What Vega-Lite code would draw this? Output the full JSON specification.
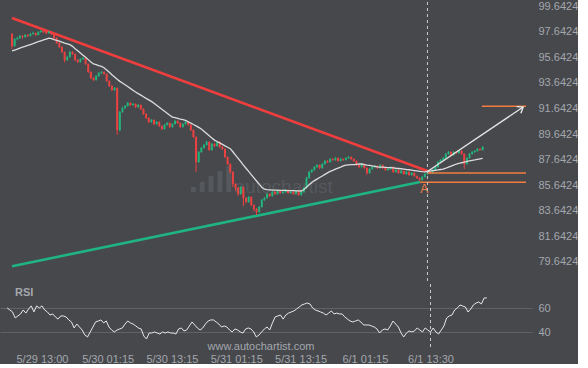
{
"$schema":"https://vega.github.io/schema/vega-lite/v6.json",
"background":"#46484c",
"padding":0,
"spacing":0,
"bounds":"flush",
"config":{"view":{"stroke":null},"axis":{"labelFont":"Liberation Sans","labelFontSize":11,"labelColor":"#a4a7ac","domain":false,"ticks":false,"grid":false,"title":null,"labelOverlap":false}},
"datasets":{
"candles":[
{"t":"2023-05-29 06:30","o":97.48,"h":97.55,"l":96.30,"c":96.54,"m":96.15,"r":60.3},
{"t":"2023-05-29 07:00","o":96.54,"h":97.15,"l":96.48,"c":97.08,"m":96.22,"r":58.6},
{"t":"2023-05-29 07:30","o":97.08,"h":97.25,"l":96.98,"c":97.16,"m":96.29,"r":57.0},
{"t":"2023-05-29 08:00","o":97.16,"h":97.40,"l":97.08,"c":97.32,"m":96.37,"r":52.0},
{"t":"2023-05-29 08:30","o":97.32,"h":97.38,"l":97.12,"c":97.24,"m":96.44,"r":53.6},
{"t":"2023-05-29 09:00","o":97.24,"h":97.47,"l":97.18,"c":97.40,"m":96.51,"r":55.3},
{"t":"2023-05-29 09:30","o":97.40,"h":97.46,"l":97.25,"c":97.32,"m":96.58,"r":58.6},
{"t":"2023-05-29 10:00","o":97.32,"h":97.56,"l":97.28,"c":97.48,"m":96.65,"r":56.0},
{"t":"2023-05-29 10:30","o":97.48,"h":97.66,"l":97.42,"c":97.55,"m":96.72,"r":59.4},
{"t":"2023-05-29 11:00","o":97.55,"h":97.60,"l":97.33,"c":97.40,"m":96.80,"r":62.0},
{"t":"2023-05-29 11:30","o":97.40,"h":97.70,"l":97.36,"c":97.63,"m":96.87,"r":57.0},
{"t":"2023-05-29 12:00","o":97.63,"h":97.80,"l":97.57,"c":97.71,"m":96.94,"r":62.0},
{"t":"2023-05-29 12:30","o":97.71,"h":97.76,"l":97.55,"c":97.63,"m":97.01,"r":60.3},
{"t":"2023-05-29 13:00","o":97.63,"h":97.69,"l":97.46,"c":97.55,"m":97.08,"r":62.0},
{"t":"2023-05-29 13:30","o":97.55,"h":97.72,"l":97.50,"c":97.63,"m":97.15,"r":58.6},
{"t":"2023-05-29 14:00","o":97.63,"h":97.68,"l":97.40,"c":97.48,"m":97.11,"r":57.0},
{"t":"2023-05-29 14:30","o":97.48,"h":97.52,"l":97.08,"c":97.16,"m":97.04,"r":54.4},
{"t":"2023-05-29 15:00","o":97.16,"h":97.22,"l":96.70,"c":96.77,"m":96.98,"r":55.3},
{"t":"2023-05-29 15:30","o":96.77,"h":96.85,"l":96.38,"c":96.46,"m":96.91,"r":52.8},
{"t":"2023-05-29 16:00","o":96.46,"h":96.52,"l":95.98,"c":96.07,"m":96.84,"r":51.0},
{"t":"2023-05-29 16:30","o":96.07,"h":96.12,"l":95.25,"c":95.44,"m":96.77,"r":53.6},
{"t":"2023-05-29 17:00","o":95.44,"h":95.75,"l":95.36,"c":95.68,"m":96.71,"r":53.6},
{"t":"2023-05-29 17:30","o":95.68,"h":96.15,"l":95.62,"c":96.07,"m":96.64,"r":52.8},
{"t":"2023-05-29 18:00","o":96.07,"h":96.13,"l":95.84,"c":95.91,"m":96.51,"r":50.3},
{"t":"2023-05-29 18:30","o":95.91,"h":95.97,"l":95.36,"c":95.44,"m":96.33,"r":48.6},
{"t":"2023-05-29 19:00","o":95.44,"h":95.52,"l":95.20,"c":95.29,"m":96.16,"r":43.6},
{"t":"2023-05-29 19:30","o":95.29,"h":95.60,"l":95.22,"c":95.52,"m":95.99,"r":46.9},
{"t":"2023-05-29 20:00","o":95.52,"h":95.68,"l":95.45,"c":95.60,"m":95.82,"r":44.4},
{"t":"2023-05-29 20:30","o":95.60,"h":95.66,"l":95.05,"c":95.13,"m":95.65,"r":41.9},
{"t":"2023-05-29 21:00","o":95.13,"h":95.18,"l":94.42,"c":94.50,"m":95.47,"r":37.8},
{"t":"2023-05-29 21:30","o":94.50,"h":94.58,"l":93.95,"c":94.03,"m":95.29,"r":36.1},
{"t":"2023-05-29 22:00","o":94.03,"h":94.10,"l":93.78,"c":93.88,"m":95.13,"r":40.3},
{"t":"2023-05-29 22:30","o":93.88,"h":94.26,"l":93.82,"c":94.19,"m":95.07,"r":44.4},
{"t":"2023-05-29 23:00","o":94.19,"h":94.50,"l":94.12,"c":94.42,"m":95.00,"r":48.6},
{"t":"2023-05-29 23:30","o":94.42,"h":94.58,"l":94.35,"c":94.50,"m":94.94,"r":49.4},
{"t":"2023-05-30 00:00","o":94.50,"h":94.56,"l":94.28,"c":94.35,"m":94.84,"r":50.3},
{"t":"2023-05-30 00:30","o":94.35,"h":94.40,"l":93.72,"c":93.80,"m":94.66,"r":47.8},
{"t":"2023-05-30 01:00","o":93.80,"h":93.86,"l":93.33,"c":93.41,"m":94.48,"r":49.4},
{"t":"2023-05-30 01:30","o":93.41,"h":93.47,"l":93.00,"c":93.09,"m":94.29,"r":44.4},
{"t":"2023-05-30 02:00","o":93.09,"h":93.33,"l":93.02,"c":93.25,"m":94.11,"r":41.9},
{"t":"2023-05-30 02:30","o":93.25,"h":93.30,"l":89.57,"c":89.96,"m":93.93,"r":40.3},
{"t":"2023-05-30 03:00","o":89.96,"h":91.45,"l":89.85,"c":91.37,"m":93.77,"r":41.9},
{"t":"2023-05-30 03:30","o":91.37,"h":91.78,"l":91.30,"c":91.69,"m":93.64,"r":42.8},
{"t":"2023-05-30 04:00","o":91.69,"h":91.93,"l":91.60,"c":91.84,"m":93.50,"r":43.6},
{"t":"2023-05-30 04:30","o":91.84,"h":92.16,"l":91.78,"c":92.08,"m":93.36,"r":46.9},
{"t":"2023-05-30 05:00","o":92.08,"h":92.14,"l":91.85,"c":91.92,"m":93.22,"r":49.4},
{"t":"2023-05-30 05:30","o":91.92,"h":92.08,"l":91.86,"c":92.00,"m":93.08,"r":47.8},
{"t":"2023-05-30 06:00","o":92.00,"h":92.05,"l":91.68,"c":91.76,"m":92.94,"r":46.9},
{"t":"2023-05-30 06:30","o":91.76,"h":91.99,"l":91.70,"c":91.92,"m":92.81,"r":45.3},
{"t":"2023-05-30 07:00","o":91.92,"h":91.97,"l":91.52,"c":91.61,"m":92.69,"r":43.6},
{"t":"2023-05-30 07:30","o":91.61,"h":91.66,"l":91.14,"c":91.22,"m":92.57,"r":42.8},
{"t":"2023-05-30 08:00","o":91.22,"h":91.28,"l":90.82,"c":90.90,"m":92.44,"r":36.9},
{"t":"2023-05-30 08:30","o":90.90,"h":90.96,"l":90.50,"c":90.59,"m":92.32,"r":34.4},
{"t":"2023-05-30 09:00","o":90.59,"h":90.83,"l":90.52,"c":90.75,"m":92.20,"r":39.4},
{"t":"2023-05-30 09:30","o":90.75,"h":90.80,"l":90.35,"c":90.43,"m":92.05,"r":39.4},
{"t":"2023-05-30 10:00","o":90.43,"h":90.67,"l":90.37,"c":90.59,"m":91.90,"r":40.3},
{"t":"2023-05-30 10:30","o":90.59,"h":90.64,"l":90.20,"c":90.28,"m":91.74,"r":39.4},
{"t":"2023-05-30 11:00","o":90.28,"h":90.33,"l":89.96,"c":90.04,"m":91.58,"r":38.6},
{"t":"2023-05-30 11:30","o":90.04,"h":90.44,"l":89.98,"c":90.36,"m":91.43,"r":40.3},
{"t":"2023-05-30 12:00","o":90.36,"h":90.59,"l":90.30,"c":90.51,"m":91.27,"r":39.4},
{"t":"2023-05-30 12:30","o":90.51,"h":90.57,"l":90.12,"c":90.20,"m":91.11,"r":40.3},
{"t":"2023-05-30 13:00","o":90.20,"h":90.50,"l":90.14,"c":90.43,"m":90.97,"r":39.4},
{"t":"2023-05-30 13:30","o":90.43,"h":90.75,"l":90.38,"c":90.67,"m":90.93,"r":39.4},
{"t":"2023-05-30 14:00","o":90.67,"h":90.72,"l":90.44,"c":90.51,"m":90.88,"r":38.6},
{"t":"2023-05-30 14:30","o":90.51,"h":90.56,"l":90.13,"c":90.20,"m":90.82,"r":42.8},
{"t":"2023-05-30 15:00","o":90.20,"h":90.50,"l":90.15,"c":90.43,"m":90.78,"r":43.6},
{"t":"2023-05-30 15:30","o":90.43,"h":90.66,"l":90.37,"c":90.59,"m":90.72,"r":41.1},
{"t":"2023-05-30 16:00","o":90.59,"h":90.64,"l":90.30,"c":90.36,"m":90.61,"r":41.9},
{"t":"2023-05-30 16:30","o":90.36,"h":90.41,"l":89.88,"c":89.96,"m":90.50,"r":45.3},
{"t":"2023-05-30 17:00","o":89.96,"h":90.02,"l":89.34,"c":89.42,"m":90.39,"r":48.6},
{"t":"2023-05-30 17:30","o":89.42,"h":89.48,"l":86.68,"c":87.46,"m":90.29,"r":46.1},
{"t":"2023-05-30 18:00","o":87.46,"h":88.32,"l":87.38,"c":88.24,"m":90.17,"r":43.6},
{"t":"2023-05-30 18:30","o":88.24,"h":88.64,"l":88.17,"c":88.56,"m":90.04,"r":41.9},
{"t":"2023-05-30 19:00","o":88.56,"h":88.87,"l":88.50,"c":88.79,"m":89.87,"r":43.6},
{"t":"2023-05-30 19:30","o":88.79,"h":89.12,"l":88.73,"c":89.03,"m":89.69,"r":46.9},
{"t":"2023-05-30 20:00","o":89.03,"h":89.08,"l":88.32,"c":88.40,"m":89.51,"r":49.4},
{"t":"2023-05-30 20:30","o":88.40,"h":88.95,"l":88.34,"c":88.87,"m":89.34,"r":50.3},
{"t":"2023-05-30 21:00","o":88.87,"h":88.93,"l":88.63,"c":88.71,"m":89.17,"r":50.3},
{"t":"2023-05-30 21:30","o":88.71,"h":89.10,"l":88.65,"c":89.03,"m":89.06,"r":48.6},
{"t":"2023-05-30 22:00","o":89.03,"h":89.08,"l":88.55,"c":88.63,"m":88.95,"r":46.9},
{"t":"2023-05-30 22:30","o":88.63,"h":88.70,"l":88.40,"c":88.48,"m":88.84,"r":44.4},
{"t":"2023-05-30 23:00","o":88.48,"h":88.53,"l":87.77,"c":87.85,"m":88.72,"r":45.3},
{"t":"2023-05-30 23:30","o":87.85,"h":87.90,"l":87.22,"c":87.30,"m":88.61,"r":44.4},
{"t":"2023-05-31 00:00","o":87.30,"h":87.36,"l":86.55,"c":86.68,"m":88.50,"r":41.9},
{"t":"2023-05-31 00:30","o":86.68,"h":86.74,"l":85.50,"c":85.74,"m":88.26,"r":40.3},
{"t":"2023-05-31 01:00","o":85.74,"h":85.80,"l":85.20,"c":85.43,"m":88.00,"r":42.8},
{"t":"2023-05-31 01:30","o":85.43,"h":85.50,"l":84.80,"c":84.96,"m":87.74,"r":41.9},
{"t":"2023-05-31 02:00","o":84.96,"h":85.58,"l":84.90,"c":85.50,"m":87.48,"r":40.3},
{"t":"2023-05-31 02:30","o":85.50,"h":85.55,"l":84.00,"c":84.64,"m":87.22,"r":39.4},
{"t":"2023-05-31 03:00","o":84.64,"h":84.70,"l":84.22,"c":84.33,"m":86.97,"r":42.8},
{"t":"2023-05-31 03:30","o":84.33,"h":84.80,"l":84.27,"c":84.72,"m":86.72,"r":43.6},
{"t":"2023-05-31 04:00","o":84.72,"h":84.78,"l":84.00,"c":84.10,"m":86.47,"r":42.8},
{"t":"2023-05-31 04:30","o":84.10,"h":84.15,"l":83.60,"c":83.78,"m":86.22,"r":40.3},
{"t":"2023-05-31 05:00","o":83.78,"h":83.85,"l":83.31,"c":83.55,"m":85.97,"r":36.1},
{"t":"2023-05-31 05:30","o":83.55,"h":84.02,"l":83.48,"c":83.94,"m":85.72,"r":37.8},
{"t":"2023-05-31 06:00","o":83.94,"h":84.56,"l":83.88,"c":84.49,"m":85.48,"r":40.3},
{"t":"2023-05-31 06:30","o":84.49,"h":84.72,"l":84.42,"c":84.64,"m":85.33,"r":42.8},
{"t":"2023-05-31 07:00","o":84.64,"h":85.04,"l":84.58,"c":84.96,"m":85.30,"r":44.4},
{"t":"2023-05-31 07:30","o":84.96,"h":85.02,"l":84.72,"c":84.80,"m":85.28,"r":41.9},
{"t":"2023-05-31 08:00","o":84.80,"h":85.19,"l":84.74,"c":85.11,"m":85.26,"r":47.8},
{"t":"2023-05-31 08:30","o":85.11,"h":85.17,"l":84.88,"c":84.96,"m":85.25,"r":52.8},
{"t":"2023-05-31 09:00","o":84.96,"h":85.27,"l":84.90,"c":85.19,"m":85.25,"r":53.6},
{"t":"2023-05-31 09:30","o":85.19,"h":85.25,"l":84.95,"c":85.03,"m":85.24,"r":54.4},
{"t":"2023-05-31 10:00","o":85.03,"h":85.19,"l":84.96,"c":85.11,"m":85.24,"r":51.0},
{"t":"2023-05-31 10:30","o":85.11,"h":85.35,"l":85.05,"c":85.27,"m":85.23,"r":54.4},
{"t":"2023-05-31 11:00","o":85.27,"h":85.32,"l":84.96,"c":85.03,"m":85.22,"r":56.0},
{"t":"2023-05-31 11:30","o":85.03,"h":85.18,"l":84.97,"c":85.11,"m":85.22,"r":56.9},
{"t":"2023-05-31 12:00","o":85.11,"h":85.16,"l":84.88,"c":84.96,"m":85.21,"r":57.8},
{"t":"2023-05-31 12:30","o":84.96,"h":85.26,"l":84.90,"c":85.19,"m":85.20,"r":59.4},
{"t":"2023-05-31 13:00","o":85.19,"h":85.24,"l":84.80,"c":84.88,"m":85.20,"r":61.1},
{"t":"2023-05-31 13:30","o":84.88,"h":85.19,"l":84.82,"c":85.11,"m":85.19,"r":62.8},
{"t":"2023-05-31 14:00","o":85.11,"h":85.51,"l":85.05,"c":85.43,"m":85.30,"r":63.6},
{"t":"2023-05-31 14:30","o":85.43,"h":86.30,"l":85.37,"c":86.21,"m":85.48,"r":64.4},
{"t":"2023-05-31 15:00","o":86.21,"h":86.76,"l":86.14,"c":86.68,"m":85.68,"r":63.6},
{"t":"2023-05-31 15:30","o":86.68,"h":86.92,"l":86.60,"c":86.83,"m":85.86,"r":60.3},
{"t":"2023-05-31 16:00","o":86.83,"h":87.15,"l":86.77,"c":87.07,"m":86.00,"r":58.6},
{"t":"2023-05-31 16:30","o":87.07,"h":87.30,"l":87.00,"c":87.22,"m":86.12,"r":57.8},
{"t":"2023-05-31 17:00","o":87.22,"h":87.27,"l":86.92,"c":86.99,"m":86.24,"r":56.9},
{"t":"2023-05-31 17:30","o":86.99,"h":87.38,"l":86.93,"c":87.30,"m":86.36,"r":56.0},
{"t":"2023-05-31 18:00","o":87.30,"h":87.62,"l":87.24,"c":87.54,"m":86.49,"r":54.4},
{"t":"2023-05-31 18:30","o":87.54,"h":87.60,"l":87.38,"c":87.46,"m":86.61,"r":56.0},
{"t":"2023-05-31 19:00","o":87.46,"h":87.77,"l":87.40,"c":87.69,"m":86.72,"r":57.8},
{"t":"2023-05-31 19:30","o":87.69,"h":87.75,"l":87.55,"c":87.62,"m":86.80,"r":55.3},
{"t":"2023-05-31 20:00","o":87.62,"h":87.85,"l":87.56,"c":87.77,"m":86.90,"r":56.0},
{"t":"2023-05-31 20:30","o":87.77,"h":87.82,"l":87.47,"c":87.54,"m":86.98,"r":55.3},
{"t":"2023-05-31 21:00","o":87.54,"h":87.76,"l":87.48,"c":87.69,"m":87.06,"r":55.3},
{"t":"2023-05-31 21:30","o":87.69,"h":87.74,"l":87.55,"c":87.62,"m":87.15,"r":52.8},
{"t":"2023-05-31 22:00","o":87.62,"h":87.85,"l":87.56,"c":87.77,"m":87.22,"r":51.0},
{"t":"2023-05-31 22:30","o":87.77,"h":87.93,"l":87.70,"c":87.85,"m":87.24,"r":49.4},
{"t":"2023-05-31 23:00","o":87.85,"h":87.90,"l":87.62,"c":87.69,"m":87.26,"r":48.6},
{"t":"2023-05-31 23:30","o":87.69,"h":87.75,"l":87.46,"c":87.54,"m":87.26,"r":49.4},
{"t":"2023-06-01 00:00","o":87.54,"h":87.59,"l":87.15,"c":87.22,"m":87.28,"r":50.3},
{"t":"2023-06-01 00:30","o":87.22,"h":87.28,"l":86.99,"c":87.07,"m":87.30,"r":48.6},
{"t":"2023-06-01 01:00","o":87.07,"h":87.37,"l":87.01,"c":87.30,"m":87.30,"r":46.1},
{"t":"2023-06-01 01:30","o":87.30,"h":87.35,"l":86.92,"c":86.99,"m":87.26,"r":46.1},
{"t":"2023-06-01 02:00","o":86.99,"h":87.04,"l":86.45,"c":86.60,"m":87.22,"r":46.1},
{"t":"2023-06-01 02:30","o":86.60,"h":86.98,"l":86.54,"c":86.91,"m":87.19,"r":45.3},
{"t":"2023-06-01 03:00","o":86.91,"h":87.14,"l":86.85,"c":87.07,"m":87.15,"r":44.4},
{"t":"2023-06-01 03:30","o":87.07,"h":87.22,"l":87.00,"c":87.15,"m":87.12,"r":42.8},
{"t":"2023-06-01 04:00","o":87.15,"h":87.20,"l":86.92,"c":86.99,"m":87.08,"r":39.4},
{"t":"2023-06-01 04:30","o":86.99,"h":87.29,"l":86.93,"c":87.22,"m":87.06,"r":41.9},
{"t":"2023-06-01 05:00","o":87.22,"h":87.27,"l":86.92,"c":86.99,"m":87.05,"r":42.8},
{"t":"2023-06-01 05:30","o":86.99,"h":87.04,"l":86.75,"c":86.83,"m":87.04,"r":41.9},
{"t":"2023-06-01 06:00","o":86.83,"h":86.98,"l":86.77,"c":86.91,"m":87.02,"r":45.3},
{"t":"2023-06-01 06:30","o":86.91,"h":87.14,"l":86.85,"c":87.07,"m":87.01,"r":49.4},
{"t":"2023-06-01 07:00","o":87.07,"h":87.12,"l":86.60,"c":86.68,"m":87.00,"r":46.9},
{"t":"2023-06-01 07:30","o":86.68,"h":86.90,"l":86.62,"c":86.83,"m":86.97,"r":44.4},
{"t":"2023-06-01 08:00","o":86.83,"h":86.88,"l":86.52,"c":86.60,"m":86.95,"r":39.4},
{"t":"2023-06-01 08:30","o":86.60,"h":86.83,"l":86.54,"c":86.76,"m":86.93,"r":36.1},
{"t":"2023-06-01 09:00","o":86.76,"h":86.81,"l":86.45,"c":86.52,"m":86.90,"r":39.4},
{"t":"2023-06-01 09:30","o":86.52,"h":86.75,"l":86.46,"c":86.68,"m":86.87,"r":41.1},
{"t":"2023-06-01 10:00","o":86.68,"h":86.73,"l":86.37,"c":86.44,"m":86.85,"r":40.3},
{"t":"2023-06-01 10:30","o":86.44,"h":86.67,"l":86.38,"c":86.60,"m":86.82,"r":41.1},
{"t":"2023-06-01 11:00","o":86.60,"h":86.65,"l":86.29,"c":86.36,"m":86.79,"r":43.6},
{"t":"2023-06-01 11:30","o":86.36,"h":86.41,"l":86.13,"c":86.21,"m":86.76,"r":41.9},
{"t":"2023-06-01 12:00","o":86.21,"h":86.26,"l":85.95,"c":86.05,"m":86.73,"r":40.3},
{"t":"2023-06-01 12:30","o":86.05,"h":86.36,"l":85.99,"c":86.29,"m":86.70,"r":43.6},
{"t":"2023-06-01 13:00","o":86.29,"h":86.60,"l":86.23,"c":86.52,"m":86.68,"r":41.9},
{"t":"2023-06-01 13:30","o":86.52,"h":86.75,"l":86.46,"c":86.68,"m":86.72,"r":40.3},
{"t":"2023-06-01 14:00","o":86.68,"h":86.74,"l":86.53,"c":86.60,"m":86.75,"r":43.6},
{"t":"2023-06-01 14:30","o":86.60,"h":86.90,"l":86.54,"c":86.83,"m":86.78,"r":40.3},
{"t":"2023-06-01 15:00","o":86.83,"h":87.14,"l":86.77,"c":87.07,"m":86.81,"r":38.6},
{"t":"2023-06-01 15:30","o":87.07,"h":87.54,"l":87.00,"c":87.46,"m":86.84,"r":41.9},
{"t":"2023-06-01 16:00","o":87.46,"h":87.70,"l":87.39,"c":87.62,"m":86.87,"r":45.3},
{"t":"2023-06-01 16:30","o":87.62,"h":87.85,"l":87.55,"c":87.77,"m":86.90,"r":51.9},
{"t":"2023-06-01 17:00","o":87.77,"h":88.17,"l":87.70,"c":88.09,"m":86.97,"r":53.6},
{"t":"2023-06-01 17:30","o":88.09,"h":88.32,"l":88.02,"c":88.24,"m":87.06,"r":54.4},
{"t":"2023-06-01 18:00","o":88.24,"h":88.30,"l":87.94,"c":88.01,"m":87.14,"r":58.6},
{"t":"2023-06-01 18:30","o":88.01,"h":88.31,"l":87.95,"c":88.24,"m":87.22,"r":60.3},
{"t":"2023-06-01 19:00","o":88.24,"h":88.30,"l":88.09,"c":88.16,"m":87.30,"r":62.8},
{"t":"2023-06-01 19:30","o":88.16,"h":88.40,"l":88.10,"c":88.32,"m":87.35,"r":61.9},
{"t":"2023-06-01 20:00","o":88.32,"h":88.37,"l":88.02,"c":88.09,"m":87.40,"r":61.1},
{"t":"2023-06-01 20:30","o":88.09,"h":88.14,"l":86.91,"c":87.30,"m":87.44,"r":56.9},
{"t":"2023-06-01 21:00","o":87.30,"h":87.85,"l":87.24,"c":87.77,"m":87.50,"r":59.4},
{"t":"2023-06-01 21:30","o":87.77,"h":88.16,"l":87.71,"c":88.09,"m":87.55,"r":62.8},
{"t":"2023-06-01 22:00","o":88.09,"h":88.32,"l":88.03,"c":88.24,"m":87.59,"r":64.4},
{"t":"2023-06-01 22:30","o":88.24,"h":88.40,"l":88.17,"c":88.32,"m":87.62,"r":65.2},
{"t":"2023-06-01 23:00","o":88.32,"h":88.56,"l":88.26,"c":88.48,"m":87.67,"r":63.6},
{"t":"2023-06-01 23:30","o":88.48,"h":88.54,"l":88.33,"c":88.40,"m":87.71,"r":68.6},
{"t":"2023-06-02 00:00","o":88.40,"h":88.71,"l":88.34,"c":88.63,"m":87.75,"r":68.6}
],
"trend":[
{"id":"resistance","t":"2023-05-29 06:30","p":98.73},
{"id":"resistance","t":"2023-06-01 13:30","p":86.76},
{"id":"support","t":"2023-05-29 06:30","p":79.30},
{"id":"support","t":"2023-06-01 12:06","p":85.89}
],
"levels":[
{"t0":"2023-06-01 13:30","t1":"2023-06-02 08:15","p":86.60},
{"t0":"2023-06-01 12:06","t1":"2023-06-02 08:15","p":85.87},
{"t0":"2023-06-01 23:51","t1":"2023-06-02 08:15","p":91.82}
],
"arrow":[
{"t":"2023-06-01 13:30","p":86.72},
{"t":"2023-06-02 07:42","p":91.76}
],
"arrowhead":[{"t":"2023-06-02 07:42","p":91.76}],
"pointA":[{"t":"2023-06-01 12:55","p":85.36,"s":"A"}],
"mark":[{"t":"2023-06-01 13:30"}],
"watermark":[{"t":"2023-05-31 10:10","p":85.50,"s":"autochartist"}],
"logo":[
{"t":"2023-05-30 17:00","b":85.11,"p":85.50},
{"t":"2023-05-30 18:40","b":85.11,"p":85.89},
{"t":"2023-05-30 20:21","b":85.11,"p":86.36},
{"t":"2023-05-30 22:02","b":85.11,"p":86.76},
{"t":"2023-05-30 23:43","b":85.11,"p":87.15}
],
"rsiLabel":[{"t":"2023-05-29 07:58","v":72.75,"s":"RSI"}],
"site":[{"t":"2023-05-31 05:52","v":27.6,"s":"www.autochartist.com"}]
},
"vconcat":[
{
"width":532,"height":282,
"layer":[
{"data":{"name":"watermark"},"mark":{"type":"text","font":"Liberation Sans","fontSize":19,"color":"#55585c","align":"center","baseline":"middle","letterSpacing":1},
 "encoding":{"x":{"field":"t","type":"temporal","scale":{"domain":[{"year":2023,"month":5,"date":29,"hours":5,"minutes":10},{"year":2023,"month":6,"date":2,"hours":8,"minutes":26}]},"axis":null},
 "y":{"field":"p","type":"quantitative","scale":{"domain":[77.91,99.98],"zero":false,"nice":false},"axis":{"orient":"right","values":[79.6424,81.6424,83.6424,85.6424,87.6424,89.6424,91.6424,93.6424,95.6424,97.6424,99.6424],"tickCount":20,"format":".4f","labelPadding":6,"labelOverlap":false}},
 "text":{"field":"s"}}},
{"data":{"name":"logo"},"mark":{"type":"bar","width":5,"color":"#55585c","cornerRadius":1},
 "encoding":{"x":{"field":"t","type":"temporal"},"y":{"field":"b","type":"quantitative"},"y2":{"field":"p"}}},
{"data":{"name":"trend"},"mark":{"type":"line","strokeWidth":2.6},
 "encoding":{"x":{"field":"t","type":"temporal"},"y":{"field":"p","type":"quantitative"},
 "color":{"field":"id","type":"nominal","scale":{"domain":["resistance","support"],"range":["#f03e3e","#1fb482"]},"legend":null}}},
{"data":{"name":"candles"},"mark":{"type":"rule","strokeWidth":1},
 "encoding":{"x":{"field":"t","type":"temporal"},"y":{"field":"l","type":"quantitative"},"y2":{"field":"h"},
 "color":{"condition":{"test":"datum.c >= datum.o","value":"#22b47c"},"value":"#ec4141"}}},
{"data":{"name":"candles"},"mark":{"type":"bar","width":2},
 "encoding":{"x":{"field":"t","type":"temporal"},"y":{"field":"o","type":"quantitative"},"y2":{"field":"c"},
 "color":{"condition":{"test":"datum.c >= datum.o","value":"#22b47c"},"value":"#ec4141"}}},
{"data":{"name":"candles"},"mark":{"type":"line","color":"#dcdcdc","strokeWidth":1.3},
 "encoding":{"x":{"field":"t","type":"temporal"},"y":{"field":"m","type":"quantitative"}}},
{"data":{"name":"levels"},"mark":{"type":"rule","color":"#f27c3e","strokeWidth":1.5},
 "encoding":{"x":{"field":"t0","type":"temporal"},"x2":{"field":"t1"},"y":{"field":"p","type":"quantitative"}}},
{"data":{"name":"arrow"},"mark":{"type":"line","color":"#e6e6e6","strokeWidth":1.3},
 "encoding":{"x":{"field":"t","type":"temporal"},"y":{"field":"p","type":"quantitative"}}},
{"data":{"name":"arrowhead"},"mark":{"type":"point","shape":"M -1 -0.75 L 0 0 L -1 0.75","filled":false,"stroke":"#e6e6e6","strokeWidth":1.4,"size":110,"angle":327,"opacity":1},
 "encoding":{"x":{"field":"t","type":"temporal"},"y":{"field":"p","type":"quantitative"}}},
{"data":{"name":"pointA"},"mark":{"type":"text","font":"Liberation Sans","fontSize":12,"color":"#f08048","align":"center","baseline":"middle"},
 "encoding":{"x":{"field":"t","type":"temporal"},"y":{"field":"p","type":"quantitative"},"text":{"field":"s"}}},
{"data":{"name":"mark"},"mark":{"type":"rule","color":"#c9cacc","strokeWidth":1,"strokeDash":[3,3]},
 "encoding":{"x":{"field":"t","type":"temporal"}}}
]
},
{
"width":532,"height":66,
"layer":[
{"data":{"name":"candles"},"mark":{"type":"line","color":"#e8e8e8","strokeWidth":1},
 "encoding":{"x":{"field":"t","type":"temporal","scale":{"domain":[{"year":2023,"month":5,"date":29,"hours":5,"minutes":10},{"year":2023,"month":6,"date":2,"hours":8,"minutes":26}]},
   "axis":{"orient":"bottom","values":[{"year":2023,"month":5,"date":29,"hours":13,"minutes":0},{"year":2023,"month":5,"date":30,"hours":1,"minutes":15},{"year":2023,"month":5,"date":30,"hours":13,"minutes":15},{"year":2023,"month":5,"date":31,"hours":1,"minutes":15},{"year":2023,"month":5,"date":31,"hours":13,"minutes":15},{"year":2023,"month":6,"date":1,"hours":1,"minutes":15},{"year":2023,"month":6,"date":1,"hours":13,"minutes":30}],"tickCount":20,"format":"%-m/%-d %H:%M","labelPadding":3,"labelOverlap":false}},
 "y":{"field":"r","type":"quantitative","scale":{"domain":[25.25,80.25],"zero":false,"nice":false},"axis":{"orient":"right","values":[40,60],"tickCount":5,"grid":true,"gridColor":"#5f6266","gridWidth":1,"labelPadding":6}}}},
{"data":{"name":"mark"},"mark":{"type":"rule","color":"#c9cacc","strokeWidth":1,"strokeDash":[3,3]},
 "encoding":{"x":{"field":"t","type":"temporal"}}},
{"data":{"name":"rsiLabel"},"mark":{"type":"text","font":"Liberation Sans","fontSize":11,"fontWeight":"bold","color":"#a4a7ac","align":"left","baseline":"middle"},
 "encoding":{"x":{"field":"t","type":"temporal"},"y":{"field":"v","type":"quantitative"},"text":{"field":"s"}}},
{"data":{"name":"site"},"mark":{"type":"text","font":"Liberation Sans","fontSize":11,"color":"#a4a7ac","align":"center","baseline":"middle","letterSpacing":0.6},
 "encoding":{"x":{"field":"t","type":"temporal"},"y":{"field":"v","type":"quantitative"},"text":{"field":"s"}}}
]
}
]
}
